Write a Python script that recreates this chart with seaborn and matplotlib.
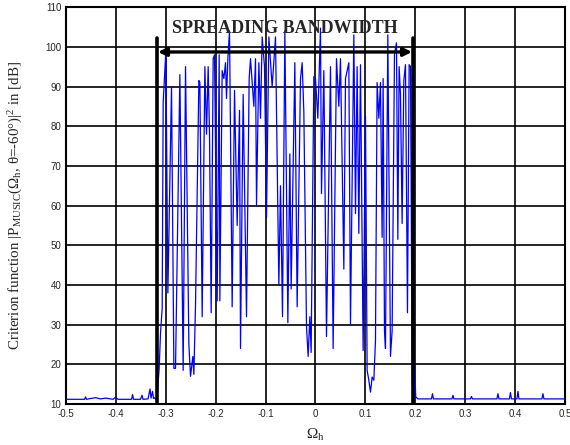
import matplotlib
matplotlib.use('Agg')
import matplotlib.pyplot as plt
import seaborn as sns
import pandas as pd

# values
base_left_x = [-0.5, -0.47, -0.462, -0.46, -0.458, -0.45, -0.44, -0.43, -0.42, -0.405, -0.40,
               -0.395, -0.38, -0.368, -0.366, -0.364, -0.35, -0.347, -0.345, -0.335, -0.331,
               -0.329, -0.326, -0.324, -0.322, -0.319]
base_left_y = [11.2, 11.2, 11.2, 11.8, 11.2, 11.4, 11.6, 11.3, 11.5, 11.2, 11.7,
               11.2, 11.2, 11.2, 12.4, 11.2, 11.2, 12.2, 11.2, 11.3, 13.8,
               11.5, 13.2, 11.4, 11.6, 11.2]

band_x = [-0.3167, -0.3127, -0.3100, -0.3067, -0.3047, -0.2993, -0.2953, -0.2880, -0.2833, -0.2800,
          -0.2713, -0.2647, -0.2600, -0.2533, -0.2500, -0.2453, -0.2433, -0.2400, -0.2333, -0.2313,
          -0.2267, -0.2213, -0.2180, -0.2147, -0.2120, -0.2087, -0.2047, -0.2020, -0.1967, -0.1927,
          -0.1913, -0.1867, -0.1833, -0.1800, -0.1780, -0.1753, -0.1720, -0.1667, -0.1620, -0.1567,
          -0.1520, -0.1500, -0.1447, -0.1380, -0.1327, -0.1300, -0.1233, -0.1200, -0.1180, -0.1133,
          -0.1100, -0.1067, -0.1020, -0.0980, -0.0933, -0.0867, -0.0800, -0.0733, -0.0700, -0.0660,
          -0.0613, -0.0553, -0.0513, -0.0487, -0.0413, -0.0367, -0.0300, -0.0267, -0.0233, -0.0180,
          -0.0147, -0.0113, -0.0087, -0.0033, 0.0000, 0.0047, 0.0100, 0.0120, 0.0167, 0.0220,
          0.0300, 0.0353, 0.0420, 0.0467, 0.0500, 0.0567, 0.0600, 0.0667, 0.0700, 0.0767,
          0.0800, 0.0833, 0.0867, 0.0900, 0.0953, 0.1000, 0.1033, 0.1067, 0.1100, 0.1133,
          0.1167, 0.1200, 0.1233, 0.1267, 0.1300, 0.1333, 0.1353, 0.1380, 0.1400, 0.1447,
          0.1500, 0.1533, 0.1580, 0.1620, 0.1647, 0.1673, 0.1700, 0.1733, 0.1767, 0.1800,
          0.1840, 0.1873, 0.1900, 0.1935, 0.1965, 0.1985, 0.2005]
band_y = [12, 19, 28, 34, 86, 99, 38, 90, 19, 19,
          93, 18.5, 95, 25, 17, 22, 17.5, 35, 91.5, 91,
          32, 95, 78, 95, 78, 33, 97, 98, 36, 98,
          36, 94, 92, 96, 87, 97, 104, 34.5, 89, 55,
          84, 24, 88, 32, 92, 97, 85, 97, 60, 96,
          82, 102.5, 95, 57, 102.5, 90, 102.5, 40, 65, 32,
          104, 30.5, 73, 39, 96, 34.5, 92, 96, 83.5, 29.5,
          22, 32, 23, 92.5, 92, 82, 104.7, 63, 94, 27,
          95, 24, 97, 85, 97, 44, 92, 96, 30, 103,
          58, 95, 53, 95.5, 23.5, 82.5, 18.5, 16, 13, 16.8,
          16, 26, 91, 82, 91, 52, 92, 28.5, 24, 103,
          22, 28.5, 98, 101, 51.5, 95, 88, 55.5, 91.5, 95.5,
          33, 95.5, 95, 15, 14, 19.5, 11.8]

base_right_x = [0.205, 0.232, 0.234, 0.236, 0.273, 0.275, 0.277, 0.31, 0.312, 0.314, 0.363, 0.365,
                0.367, 0.388, 0.39, 0.392, 0.403, 0.405, 0.407, 0.453, 0.455, 0.457, 0.5]
base_right_y = [11.3, 11.3, 12.6, 11.3, 11.3, 12.2, 11.3, 11.3, 11.9, 11.3, 11.3, 12.6,
                11.3, 11.3, 12.9, 11.3, 11.3, 13.2, 11.3, 11.3, 12.6, 11.3, 11.3]

band_left = -0.318
band_right = 0.196

df = pd.DataFrame({'omega': base_left_x + band_x + base_right_x,
                   'crit': base_left_y + band_y + base_right_y})

sns.set_style('white')
plt.rcParams['mathtext.fontset'] = 'custom'
plt.rcParams['mathtext.rm'] = 'Liberation Serif'
plt.rcParams['mathtext.it'] = 'Liberation Serif:italic'

fig = plt.figure(figsize=(5.7, 4.45), dpi=100)
ax = fig.add_axes([0.115, 0.092, 0.877, 0.892])

sns.lineplot(data=df, x='omega', y='crit', color='#0000ff', lw=0.9,
             estimator=None, sort=False, ax=ax, zorder=3)

ax.set_xlim(-0.5, 0.5)
ax.set_ylim(10, 110)
ax.set_xticks([-0.5, -0.4, -0.3, -0.2, -0.1, 0, 0.1, 0.2, 0.3, 0.4, 0.5])
ax.set_xticklabels(['-0.5', '-0.4', '-0.3', '-0.2', '-0.1', '0', '0.1', '0.2', '0.3', '0.4', '0.5'])
ax.set_yticks(range(10, 111, 10))
ax.grid(True, color='black', lw=1.2)
ax.set_axisbelow(True)
ax.tick_params(axis='x', length=0, labelsize=7, pad=3.5)
ax.tick_params(axis='y', length=0, labelsize=7, pad=3)
for lab in ax.get_xticklabels() + ax.get_yticklabels():
    lab.set_family('Liberation Sans')
for s in ax.spines.values():
    s.set_color('black')
    s.set_linewidth(1.5)

# bandwidth markers
ax.plot([band_left, band_left], [10, 102.2], color='black', lw=2.6, zorder=4)
ax.plot([band_right, band_right], [10, 102.2], color='black', lw=2.6, zorder=4)
ax.annotate('', xy=(band_left + 0.003, 98.7), xytext=(band_right - 0.003, 98.7),
            arrowprops=dict(arrowstyle='<|-|>', color='black', lw=2.4, mutation_scale=12,
                            shrinkA=0, shrinkB=0), zorder=5)
ax.text(-0.061, 104.5, 'SPREADING BANDWIDTH', ha='center', va='center',
        fontsize=13, fontweight='bold', family='Liberation Serif', zorder=6)

ax.set_xlabel(r'$\Omega_\mathrm{h}$', fontsize=11, family='Liberation Serif', labelpad=6)
ax.set_ylabel(r'Criterion function $|$P$_\mathrm{MUSIC}$(Ω$_\mathrm{h}$, θ=-60°)$|^2$ in [dB]',
              fontsize=10.8, family='Liberation Serif')
ax.yaxis.set_label_coords(-0.082, 0.5)

fig.savefig('out.png', dpi=100)
